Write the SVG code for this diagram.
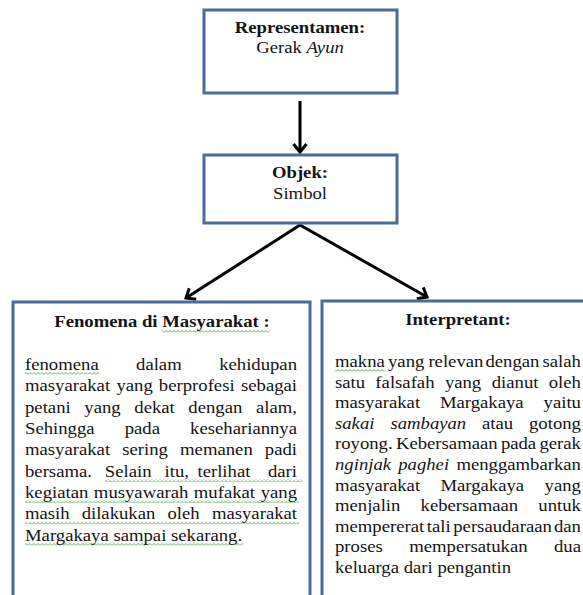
<svg xmlns="http://www.w3.org/2000/svg" width="583" height="595" viewBox="0 0 583 595">
<style>
text{font-family:"Liberation Serif","Times New Roman",serif;font-size:17px;fill:#141414}
.b{font-weight:bold}
.m{text-anchor:middle}
.e{text-anchor:end}
.i{font-style:italic}
.box{fill:#fff;stroke:#4a6b9c;stroke-width:3}
.con{stroke:#000;stroke-width:3;fill:none}
.wv{fill:url(#wave)}
</style>
<defs>
<marker id="arr" markerUnits="userSpaceOnUse" markerWidth="20" markerHeight="20" viewBox="-12 -10 14 20" refX="0" refY="0" orient="auto">
<path d="M-8,-6.5 L0,0 L-8,6.5" fill="none" stroke="#000" stroke-width="3" stroke-linejoin="miter"/>
</marker>
<pattern id="wave" patternUnits="userSpaceOnUse" width="4" height="3">
<polyline points="0,2.5 2,0.5 4,2.5" fill="none" stroke="#4fa84a" stroke-width="0.9"/>
</pattern>
</defs>
<rect width="583" height="595" fill="#fff"/>
<g id="connectors">
<line class="con" x1="300" y1="101" x2="300" y2="152" marker-end="url(#arr)"/>
<line class="con" x1="300" y1="225" x2="186" y2="298" marker-end="url(#arr)"/>
<line class="con" x1="300" y1="225" x2="427" y2="297" marker-end="url(#arr)"/>
</g>
<g id="representamen">
<rect class="box" x="204" y="10" width="193" height="83"/>
<g transform="translate(300 0) scale(1.1 1)">
<text class="b m" x="0" y="33">Representamen:</text>
<text class="m" x="0" y="53">Gerak <tspan class="i">Ayun</tspan></text>
</g>
</g>
<g id="objek">
<rect class="box" x="204" y="155" width="193" height="68"/>
<g transform="translate(300 0) scale(1.1 1)">
<text class="b m" x="0" y="178">Objek:</text>
<text class="m" x="0" y="199">Simbol</text>
</g>
</g>
<g id="fenomena">
<rect class="box" x="13" y="302" width="297" height="320"/>
<rect class="wv" x="162" y="330" width="108" height="3"/>
<rect class="wv" x="25" y="372" width="74" height="3"/>
<rect class="wv" x="105" y="479" width="197" height="3"/>
<rect class="wv" x="25" y="500" width="274" height="3"/>
<rect class="wv" x="25" y="521.5" width="274" height="3"/>
<rect class="wv" x="25" y="543" width="218" height="3"/>
<g transform="translate(25 0) scale(1.1 1)">
<text class="b m" x="124.5" y="327">Fenomena di Masyarakat :</text>
<text x="0" y="370">fenomena</text><text x="100.95" y="370">dalam</text><text class="e" x="247.3" y="370">kehidupan</text>
<text x="0" y="391.35">masyarakat</text><text x="83.1" y="391.35">yang</text><text x="121.7" y="391.35">berprofesi</text><text class="e" x="247.3" y="391.35">sebagai</text>
<text x="0" y="412.7">petani</text><text x="53.9" y="412.7">yang</text><text x="99.4" y="412.7">dekat</text><text x="148.5" y="412.7">dengan</text><text class="e" x="247.3" y="412.7">alam,</text>
<text x="0" y="434.05">Sehingga</text><text x="90.6" y="434.05">pada</text><text class="e" x="247.3" y="434.05">kesehariannya</text>
<text x="0" y="455.4">masyarakat</text><text x="88.4" y="455.4">sering</text><text x="141" y="455.4">memanen</text><text class="e" x="247.3" y="455.4">padi</text>
<text x="0" y="476.75">bersama.</text><text x="72.6" y="476.75">Selain</text><text x="126.9" y="476.75">itu,</text><text x="156.8" y="476.75">terlihat</text><text class="e" x="247.3" y="476.75">dari</text>
<text x="0" y="498.1">kegiatan</text><text x="62.6" y="498.1">musyawarah</text><text x="153.5" y="498.1">mufakat</text><text class="e" x="247.3" y="498.1">yang</text>
<text x="0" y="519.45">masih</text><text x="51.5" y="519.45">dilakukan</text><text x="129.5" y="519.45">oleh</text><text class="e" x="247.3" y="519.45">masyarakat</text>
<text x="0" y="540.8">Margakaya sampai sekarang.</text>
</g>
</g>
<g id="interpretant">
<rect class="box" x="322" y="301" width="300" height="320"/>
<rect class="wv" x="335" y="369" width="50" height="3"/>
<g transform="translate(335 0) scale(1.1 1)">
<text class="b m" x="111.8" y="325">Interpretant:</text>
<text x="0" y="367">makna</text><text x="48.2" y="367">yang</text><text x="84.9" y="367">relevan</text><text x="136.8" y="367">dengan</text><text class="e" x="223.6" y="367">salah</text>
<text x="0" y="387.6">satu</text><text x="36.7" y="387.6">falsafah</text><text x="99.9" y="387.6">yang</text><text x="142.5" y="387.6">dianut</text><text class="e" x="223.6" y="387.6">oleh</text>
<text x="0" y="408.2">masyarakat</text><text x="95.4" y="408.2">Margakaya</text><text class="e" x="223.6" y="408.2">yaitu</text>
<text class="i" x="0" y="428.8">sakai</text><text class="i" x="50.4" y="428.8">sambayan</text><text x="133.7" y="428.8">atau</text><text class="e" x="223.6" y="428.8">gotong</text>
<text x="0" y="449.4">royong.</text><text x="55.4" y="449.4">Kebersamaan</text><text x="150.8" y="449.4">pada</text><text class="e" x="223.6" y="449.4">gerak</text>
<text class="i" x="0" y="470">nginjak</text><text class="i" x="57.5" y="470">paghei</text><text class="e" x="223.6" y="470">menggambarkan</text>
<text x="0" y="490.6">masyarakat</text><text x="95.8" y="490.6">Margakaya</text><text class="e" x="223.6" y="490.6">yang</text>
<text x="0" y="511.2">menjalin</text><text x="77.8" y="511.2">kebersamaan</text><text class="e" x="223.6" y="511.2">untuk</text>
<text x="0" y="531.8">mempererat</text><text x="83.5" y="531.8">tali</text><text x="107.5" y="531.8">persaudaraan</text><text class="e" x="223.6" y="531.8">dan</text>
<text x="0" y="552.4">proses</text><text x="67.5" y="552.4">mempersatukan</text><text class="e" x="223.6" y="552.4">dua</text>
<text x="0" y="573">keluarga dari pengantin</text>
</g>
</g>
</svg>
